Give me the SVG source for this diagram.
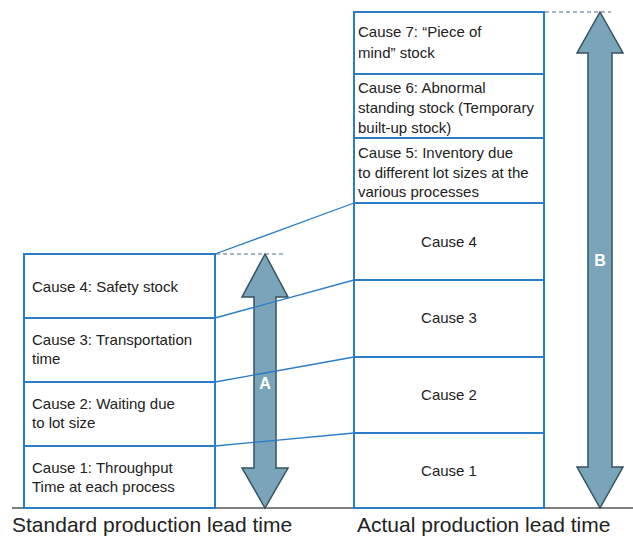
<svg xmlns="http://www.w3.org/2000/svg" width="633" height="537" viewBox="0 0 633 537">
  <style>
    .box { fill: #ffffff; stroke: #2a7cc7; stroke-width: 2; }
    .link { stroke: #2a7cc7; stroke-width: 1.3; fill: none; }
    .dash { stroke: #4a6d8c; stroke-width: 1.2; stroke-dasharray: 4 3; fill: none; }
    .arrow { fill: #7aa4b9; stroke: #34525f; stroke-width: 1.5; stroke-linejoin: miter; }
    .base { stroke: #555555; stroke-width: 1.5; }
    .t { font-family: "Liberation Sans", Arial, sans-serif; font-size: 15px; fill: #222222; }
    .c { text-anchor: middle; }
    .big { font-family: "Liberation Sans", Arial, sans-serif; font-size: 21px; fill: #222222; }
    .lab { font-family: "Liberation Sans", Arial, sans-serif; font-size: 16px; font-weight: bold; fill: #ffffff; text-anchor: middle; }
  </style>
  <rect width="633" height="537" fill="#ffffff"/>

  <!-- baseline -->
  <line class="base" x1="12" y1="508" x2="633" y2="508"/>

  <!-- standard lead time stack -->
  <g id="std-cause4">
    <rect class="box" x="24" y="254" width="191" height="64"/>
    <text class="t" x="32" y="292">Cause 4: Safety stock</text>
  </g>
  <g id="std-cause3">
    <rect class="box" x="24" y="318" width="191" height="64"/>
    <text class="t" x="32" y="345">Cause 3: Transportation</text>
    <text class="t" x="32" y="364">time</text>
  </g>
  <g id="std-cause2">
    <rect class="box" x="24" y="382" width="191" height="64"/>
    <text class="t" x="32" y="409">Cause 2: Waiting due</text>
    <text class="t" x="32" y="428">to lot size</text>
  </g>
  <g id="std-cause1">
    <rect class="box" x="24" y="446" width="191" height="62"/>
    <text class="t" x="32" y="473">Cause 1: Throughput</text>
    <text class="t" x="32" y="492">Time at each process</text>
  </g>

  <!-- actual lead time stack -->
  <g id="act-cause7">
    <rect class="box" x="354" y="12" width="190" height="62"/>
    <text class="t" x="358" y="37">Cause 7: “Piece of</text>
    <text class="t" x="358" y="58">mind” stock</text>
  </g>
  <g id="act-cause6">
    <rect class="box" x="354" y="74" width="190" height="64"/>
    <text class="t" x="358" y="93">Cause 6: Abnormal</text>
    <text class="t" x="358" y="113">standing stock (Temporary</text>
    <text class="t" x="358" y="133">built-up stock)</text>
  </g>
  <g id="act-cause5">
    <rect class="box" x="354" y="138" width="190" height="65"/>
    <text class="t" x="358" y="158">Cause 5: Inventory due</text>
    <text class="t" x="358" y="178">to different lot sizes at the</text>
    <text class="t" x="358" y="197">various processes</text>
  </g>
  <g id="act-cause4">
    <rect class="box" x="354" y="203" width="190" height="77"/>
    <text class="t c" x="449" y="247">Cause 4</text>
  </g>
  <g id="act-cause3">
    <rect class="box" x="354" y="280" width="190" height="77"/>
    <text class="t c" x="449" y="323">Cause 3</text>
  </g>
  <g id="act-cause2">
    <rect class="box" x="354" y="357" width="190" height="76"/>
    <text class="t c" x="449" y="400">Cause 2</text>
  </g>
  <g id="act-cause1">
    <rect class="box" x="354" y="433" width="190" height="75"/>
    <text class="t c" x="449" y="476">Cause 1</text>
  </g>

  <!-- span arrows -->
  <g id="arrow-a">
    <polygon class="arrow" points="265,254 288,297 276,297 276,468 288,468 265,508 242,468 254,468 254,297 242,297"/>
    <text class="lab" x="265" y="389">A</text>
  </g>
  <g id="arrow-b">
    <polygon class="arrow" points="600,12 623,53 612,53 612,467 623,467 600,508 577,467 588,467 588,53 577,53"/>
    <text class="lab" x="600" y="266">B</text>
  </g>

  <!-- connectors -->
  <g id="connectors">
    <line class="dash" x1="216" y1="254" x2="283" y2="254"/>
    <line class="dash" x1="545" y1="12" x2="611" y2="12"/>
    <line class="link" x1="215" y1="254" x2="354" y2="203"/>
    <line class="link" x1="215" y1="318" x2="354" y2="280"/>
    <line class="link" x1="215" y1="382" x2="354" y2="357"/>
    <line class="link" x1="215" y1="446" x2="354" y2="433"/>
  </g>

  <!-- captions -->
  <text class="big" x="12" y="532">Standard production lead time</text>
  <text class="big" x="357" y="532">Actual production lead time</text>
</svg>
